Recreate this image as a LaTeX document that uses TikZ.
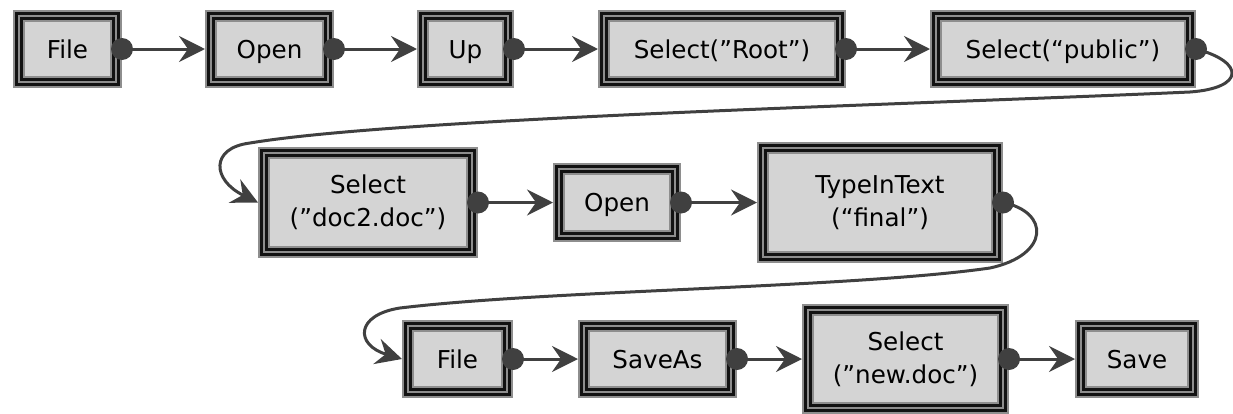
\documentclass[tikz,border=0pt]{standalone}
\usepackage{fontspec}
\setmainfont{DejaVu Sans}
\usetikzlibrary{positioning,arrows.meta}
\definecolor{boxfill}{HTML}{D4D4D4}
\definecolor{rimgray}{HTML}{8E8E8E}
\definecolor{rimblack}{HTML}{121212}
\definecolor{linkgray}{HTML}{404040}

\begin{document}
\begin{tikzpicture}[x=0.5pt, y=-0.5pt,
    stepbox/.style={preaction={fill=boxfill},
        preaction={draw=rimgray, line width=6pt},
        preaction={draw=rimblack, line width=4pt},
        draw=rimgray, line width=1pt, outer sep=3pt, inner sep=0pt,
        minimum height=33pt, align=center,
        font=\fontsize{12.3}{16.5}\selectfont},
    oneline/.style={stepbox, text height=11pt, text depth=2pt},
    flow/.style={draw=linkgray, line width=1.5pt,
        -{Stealth[length=13pt, width=13pt, inset=4.5pt]}},
    knob/.style={fill=linkgray}]

    \useasboundingbox (0,0) rectangle (1233,413);

    % first row
    \node[oneline, minimum width=48.5pt] (file) at (67.5,49) {File};
    \node[oneline, minimum width=58.5pt, right=41.5pt of file] (open) {Open};
    \node[oneline, minimum width=42.5pt, right=41.5pt of open] (up) {Up};
    \node[oneline, minimum width=118pt, right=42pt of up] (root) {Select("Root")};
    \node[oneline, minimum width=127pt, right=42pt of root] (public) {Select(“public”)};

    % second row
    \node[stepbox, minimum width=104pt, minimum height=49.5pt] (doc) at (368,202.5) {Select\\("doc2.doc")};
    \node[oneline, minimum width=58pt, minimum height=33.5pt, right=37.5pt of doc] (reopen) {Open};
    \node[stepbox, minimum width=117pt, minimum height=54.5pt, right=38pt of reopen] (type) {TypeInText\\(“final”)};

    % third row
    \node[oneline, minimum width=49.5pt] (refile) at (457.5,359) {File};
    \node[oneline, minimum width=73.5pt, right=32.5pt of refile] (saveas) {SaveAs};
    \node[stepbox, minimum width=97.5pt, minimum height=49pt, right=32.5pt of saveas] (newdoc) {Select\\("new.doc")};
    \node[oneline, minimum width=56pt, right=33pt of newdoc] (save) {Save};

    \draw[flow] (file.east) -- (open.west);
    \draw[flow] (open.east) -- (up.west);
    \draw[flow] (up.east) -- (root.west);
    \draw[flow] (root.east) -- (public.west);
    \draw[flow] (public.east) .. controls (1245,62) and (1245,88) .. (1190,92)
        .. controls (900,105) and (400,118) .. (250,143)
        .. controls (210,148) and (212,180) .. (doc.west);
    \draw[flow] (doc.east) -- (reopen.west);
    \draw[flow] (reopen.east) -- (type.west);
    \draw[flow] (type.east) .. controls (1050,212) and (1050,255) .. (990,268)
        .. controls (850,288) and (550,290) .. (400,308)
        .. controls (355,315) and (355,345) .. (refile.west);
    \draw[flow] (refile.east) -- (saveas.west);
    \draw[flow] (saveas.east) -- (newdoc.west);
    \draw[flow] (newdoc.east) -- (save.west);

    \foreach \n in {file,open,up,root,public,doc,reopen,type,refile,saveas,newdoc}
        \fill[knob] (\n.east) circle (5.5pt);
\end{tikzpicture}
\end{document}
